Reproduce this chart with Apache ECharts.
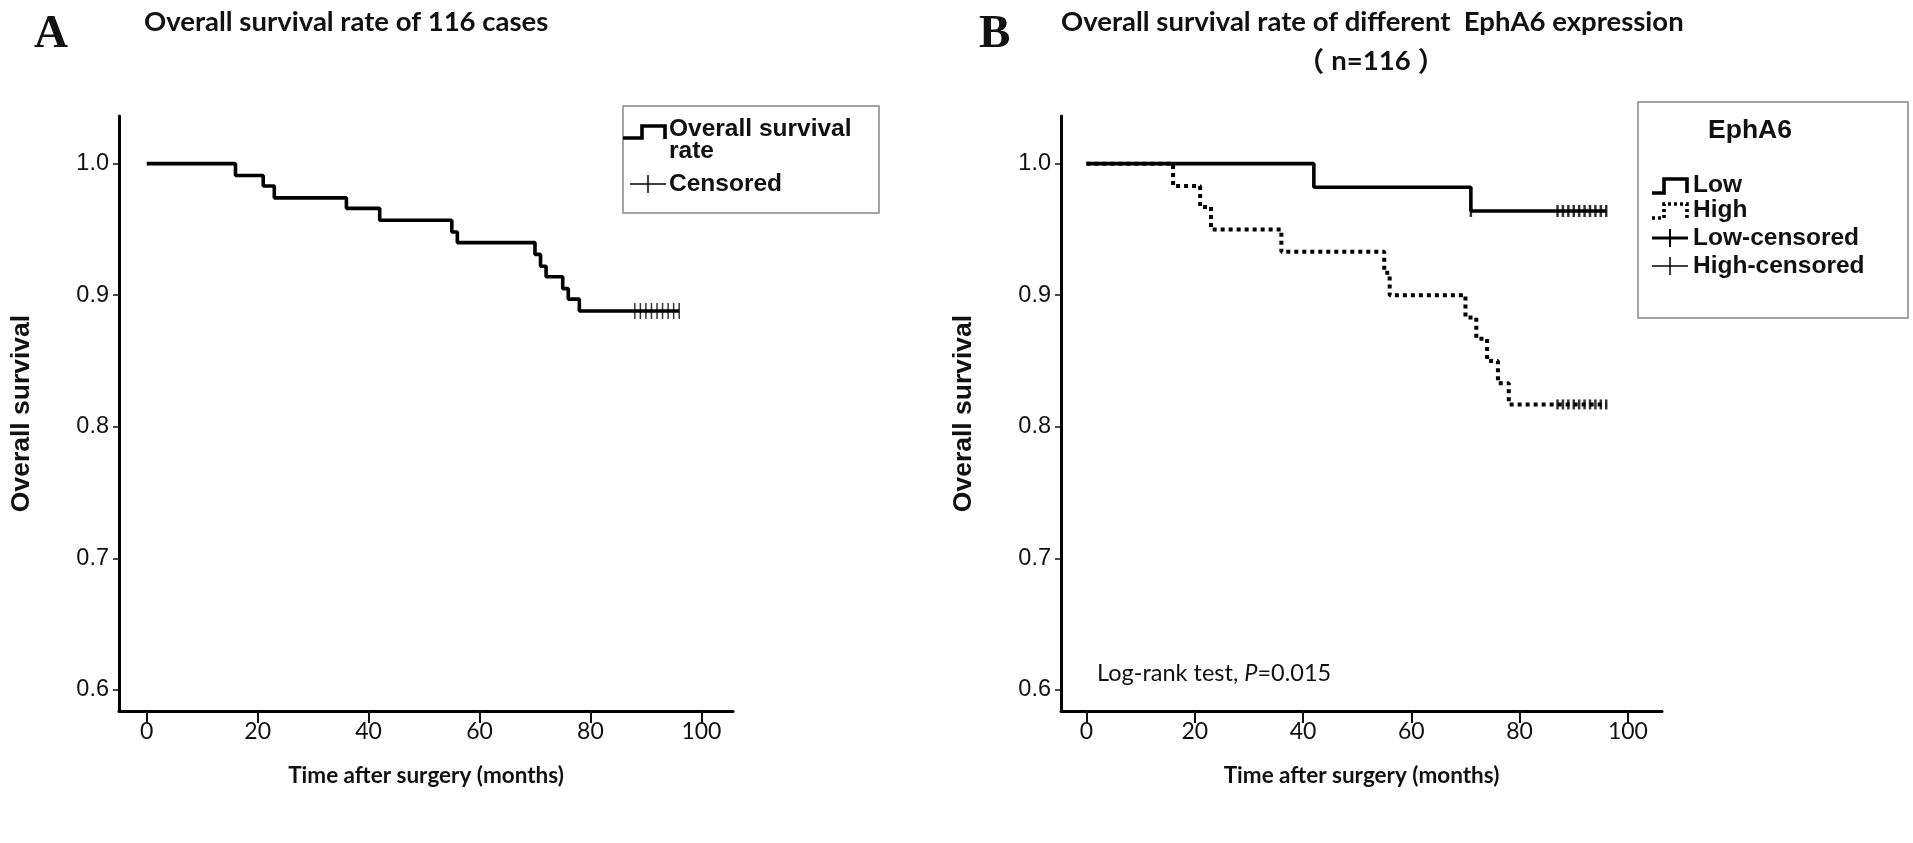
<!DOCTYPE html>
<html><head><meta charset="utf-8">
<script src="https://cdn.jsdelivr.net/npm/echarts@6/dist/echarts.min.js"></script>
<style>html,body{margin:0;padding:0;background:#fff}#c{width:1913px;height:843px}</style>
</head><body><div id="c"></div>
<script>
// ---- data ----
const xTickValues = [0, 20, 40, 60, 80, 100];
const yTickValues = [0.6, 0.7, 0.8, 0.9, 1.0];

const overallTime = [0, 16, 21, 23, 36, 42, 55, 56, 70, 71, 72, 75, 76, 78, 96];
const overallSurv = [1.0, 0.991, 0.983, 0.974, 0.966, 0.957, 0.948, 0.940, 0.931, 0.922, 0.914, 0.905, 0.897, 0.888, 0.888];
const overallCensTime = [88, 89, 90, 91, 92, 93, 94, 95, 96];
const overallCensSurv = [0.888, 0.888, 0.888, 0.888, 0.888, 0.888, 0.888, 0.888, 0.888];

const lowTime = [0, 42, 71, 96];
const lowSurv = [1.0, 0.982, 0.964, 0.964];
const lowCensTime = [71, 87, 88, 89, 90, 91, 92, 93, 94, 95, 96];
const lowCensSurv = [0.964, 0.964, 0.964, 0.964, 0.964, 0.964, 0.964, 0.964, 0.964, 0.964, 0.964];

const highTime = [0, 16, 21, 23, 36, 55, 56, 70, 72, 74, 76, 78, 96];
const highSurv = [1.0, 0.983, 0.967, 0.950, 0.933, 0.917, 0.900, 0.883, 0.867, 0.850, 0.833, 0.817, 0.817];
const highCensTime = [87, 88, 89, 90, 91, 92, 93, 94, 95, 96];
const highCensSurv = [0.817, 0.817, 0.817, 0.817, 0.817, 0.817, 0.817, 0.817, 0.817, 0.817];

const zip = (a, b) => a.map((v, i) => [v, b[i]]);

// ---- chart ----
const chart = echarts.init(document.getElementById('c'), null, {renderer: 'canvas'});
const ARIAL = '"Liberation Sans", Arial, sans-serif';
const CAL = 'Lato, "Noto Sans CJK SC", sans-serif';

function xAxisCfg(gi, min, max) {
  return {
    type: 'value', gridIndex: gi, min: min, max: max,
    name: 'Time after surgery (months)', nameLocation: 'middle', nameGap: 53,
    nameTextStyle: {fontFamily: CAL, fontWeight: 'bold', fontSize: 22.5, color: '#111'},
    axisLine: {show: true, onZero: false, lineStyle: {color: '#000', width: 3}},
    axisTick: {show: true, customValues: xTickValues, length: 12, lineStyle: {color: '#111', width: 2}},
    axisLabel: {show: true, customValues: xTickValues, margin: 9, fontFamily: CAL, fontSize: 23, color: '#111',
      formatter: v => String(v)},
    splitLine: {show: false}
  };
}
function yAxisCfg(gi) {
  return {
    type: 'value', gridIndex: gi, min: 0.584, max: 1.0362,
    name: 'Overall survival', nameLocation: 'middle', nameGap: 84,
    nameTextStyle: {fontFamily: ARIAL, fontWeight: 'bold', fontSize: 26.5, color: '#111'},
    axisLine: {show: true, onZero: false, lineStyle: {color: '#000', width: 3}},
    axisTick: {show: true, customValues: yTickValues, length: 6, lineStyle: {color: '#111', width: 1.5}},
    axisLabel: {show: true, customValues: yTickValues, margin: 10, fontFamily: ARIAL, fontSize: 23.5, color: '#111',
      formatter: v => v.toFixed(1)},
    splitLine: {show: false}
  };
}

const stepLine = (name, gi, data, dashed) => ({
  type: 'line', name: name, xAxisIndex: gi, yAxisIndex: gi, step: 'end', data: data,
  showSymbol: false, symbol: 'none', silent: true, animation: false,
  lineStyle: {color: '#000', width: dashed ? 4 : 3.6, type: dashed ? [4, 4] : 'solid', cap: 'butt'},
  itemStyle: {color: '#000'}, z: 3
});
const censor = (name, gi, data, size) => ({
  type: 'scatter', name: name, xAxisIndex: gi, yAxisIndex: gi, data: data,
  symbol: 'rect', symbolSize: size, silent: true, animation: false,
  itemStyle: {color: '#000'}, z: 4
});

const tText = (x, y, text, font, align) => ({
  type: 'text', x: x, y: y,
  style: {text: text, font: font, fill: '#111', align: align || 'left', verticalAlign: 'middle'}
});
const pl = (pts, w, dash) => ({type: 'polyline', shape: {points: pts},
  style: {stroke: '#000', lineWidth: w, fill: null, lineDash: dash || null}});

const LFONT = 'bold 24.5px ' + ARIAL;
const graphics = [
  // panel labels and titles
  tText(34, 35, 'A', 'bold 47px "Liberation Serif", serif'),
  tText(144, 22, 'Overall survival rate of 116 cases', 'bold 27.5px ' + CAL),
  tText(979, 35, 'B', 'bold 47px "Liberation Serif", serif'),
  tText(1061, 22, 'Overall survival rate of different  EphA6 expression', 'bold 27.5px ' + CAL),
  {type: 'text', x: 1371, y: 61, style: {
    text: '{p|（}{t|n=116}{p|）}', align: 'center', verticalAlign: 'middle',
    rich: {
      p: {fontFamily: '"Noto Sans CJK SC", sans-serif', fontWeight: 'bold', fontSize: 27, fill: '#111', padding: [0, 7, 0, 7]},
      t: {fontFamily: CAL, fontWeight: 'bold', fontSize: 27.5, fill: '#111'}}}},
  // log-rank
  {type: 'text', x: 1097, y: 673, style: {
    text: '{a|Log-rank test, }{b|P}{a|=0.015}', verticalAlign: 'middle',
    rich: {a: {fontFamily: CAL, fontSize: 23.5, fill: '#111'},
           b: {fontFamily: CAL, fontStyle: 'italic', fontSize: 23.5, fill: '#111'}}}},
  // legend A
  {type: 'rect', shape: {x: 623, y: 106, width: 256, height: 107}, style: {fill: null, stroke: '#888', lineWidth: 1.5}},
  pl([[623, 138], [642, 138], [642, 126], [665, 126], [665, 139]], 3.6),
  tText(669, 129, 'Overall survival', LFONT),
  tText(669, 151, 'rate', LFONT),
  pl([[630, 184], [666, 184]], 1.5),
  pl([[648, 175], [648, 193]], 1.5),
  tText(669, 184, 'Censored', LFONT),
  // legend B
  {type: 'rect', shape: {x: 1638, y: 102, width: 270, height: 216}, style: {fill: null, stroke: '#888', lineWidth: 1.5}},
  tText(1750, 131, 'EphA6', 'bold 26.5px ' + ARIAL, 'center'),
  pl([[1652, 193], [1664, 193], [1664, 179], [1687, 179], [1687, 193]], 3.6),
  tText(1693, 185, 'Low', LFONT),
  pl([[1652, 218], [1664, 218], [1664, 204], [1687, 204], [1687, 218]], 3.6, [3, 3]),
  tText(1693, 210, 'High', LFONT),
  pl([[1652, 238], [1688, 238]], 3),
  pl([[1670, 229], [1670, 247]], 2),
  tText(1693, 238, 'Low-censored', LFONT),
  pl([[1652, 266], [1688, 266]], 1.5),
  pl([[1670, 257], [1670, 275]], 1.5),
  tText(1693, 266, 'High-censored', LFONT)
];

chart.setOption({
  animation: false,
  backgroundColor: '#fff',
  grid: [
    {left: 119, right: 1180, top: 116, bottom: 132},
    {left: 1061, right: 251, top: 116, bottom: 132}
  ],
  xAxis: [xAxisCfg(0, -5.0, 105.7), xAxisCfg(1, -4.7, 106.3)],
  yAxis: [yAxisCfg(0), yAxisCfg(1)],
  series: [
    stepLine('Overall survival rate', 0, zip(overallTime, overallSurv), false),
    censor('Censored', 0, zip(overallCensTime, overallCensSurv), [1.5, 16]),
    stepLine('Low', 1, zip(lowTime, lowSurv), false),
    stepLine('High', 1, zip(highTime, highSurv), true),
    censor('Low-censored', 1, zip(lowCensTime, lowCensSurv), [2.5, 12]),
    censor('High-censored', 1, zip(highCensTime, highCensSurv), [2.5, 10])
  ],
  graphic: graphics
});
</script>
</body></html>
